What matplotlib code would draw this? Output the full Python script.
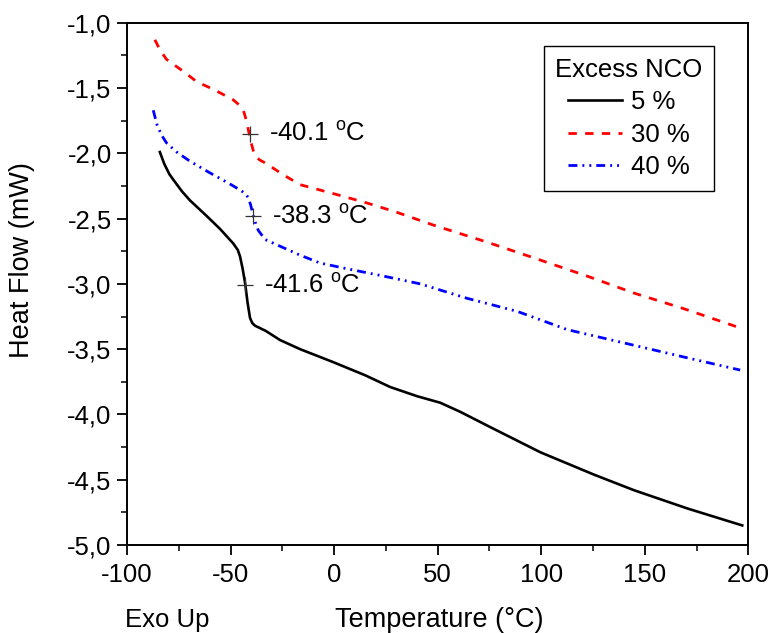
import numpy as np
import matplotlib
matplotlib.use('Agg')
import matplotlib.pyplot as plt
from matplotlib.ticker import MultipleLocator, FuncFormatter

plt.rcParams['font.family'] = ['Liberation Sans', 'DejaVu Sans']
plt.rcParams['mathtext.fontset'] = 'custom'
plt.rcParams['mathtext.rm'] = 'Liberation Sans'
plt.rcParams['font.size'] = 18.5

# 5 % excess NCO
t_5 = [-84.1, -82, -79.5, -77.7, -73.5, -69.6, -61.5, -55, -48.7, -46.5, -45.4, -44.2, -43.0, -41.8,
       -40.6, -39.5, -38.2, -33, -26.1, -16.4, -0.3, 15, 27.1, 40, 51.2, 60.9, 77.0, 99.6, 125.3,
       144.7, 170.5, 197.0]
hf_5 = [-1.99, -2.08, -2.16, -2.20, -2.29, -2.36, -2.48, -2.58, -2.69, -2.74, -2.79, -2.88, -2.99, -3.14,
        -3.26, -3.30, -3.32, -3.36, -3.43, -3.50, -3.60, -3.70, -3.79, -3.86, -3.91, -3.98, -4.11, -4.29,
        -4.46, -4.58, -4.72, -4.85]

# 30 % excess NCO
t_30 = [-86.5, -84, -80.9, -73, -66.4, -57, -48.7, -46.5, -45, -43.8, -42.5, -41.4, -40.2, -39.0,
        -38, -36, -32.5, -25, -16.4, 0, 15.8, 30, 48.0, 73.8, 96.3, 122.1, 144.7, 168.8, 196.5]
hf_30 = [-1.13, -1.21, -1.28, -1.37, -1.45, -1.52, -1.59, -1.62, -1.64, -1.67, -1.74, -1.82, -1.91, -1.98,
         -2.02, -2.05, -2.08, -2.16, -2.24, -2.31, -2.38, -2.45, -2.55, -2.68, -2.80, -2.94, -3.07,
         -3.19, -3.34]

# 40 % excess NCO
t_40 = [-87.3, -85.5, -83.3, -80.9, -76, -69.6, -59.9, -51.9, -45.4, -42.8, -41.4, -40.2, -39.0, -37.8,
        -36.6, -33.3, -27.7, -16.4, -6.8, 5, 23.8, 41.6, 64.1, 88.3, 112.5, 144.7, 168.8, 196]
hf_40 = [-1.67, -1.78, -1.86, -1.92, -1.99, -2.06, -2.15, -2.22, -2.28, -2.31, -2.34, -2.40, -2.48, -2.54,
         -2.59, -2.66, -2.70, -2.78, -2.84, -2.88, -2.94, -3.00, -3.11, -3.21, -3.35, -3.47, -3.56, -3.66]

# glass transition markers
tg_x = [-40.6, -39.0, -43.0]
tg_y = [-1.85, -2.48, -3.01]
tg_labels = ['-40.1 $^{\\mathrm{o}}$C', '-38.3 $^{\\mathrm{o}}$C', '-41.6 $^{\\mathrm{o}}$C']

fig = plt.figure(figsize=(7.74, 6.33), dpi=100)
ax = fig.add_axes([0.164, 0.139, 0.803, 0.825])

ax.plot(t_5, hf_5, color='black', lw=1.9, label='5 %')
ax.plot(t_30, hf_30, color='red', lw=2.0, linestyle=(0, (3, 3)), label='30 %')
ax.plot(t_40, hf_40, color='blue', lw=2.0, linestyle=(0, (3.2, 1.8, 0.7, 1.8, 0.7, 1.8)), label='40 %')

ax.plot(tg_x, tg_y, linestyle='none', marker='+', ms=11, mew=0.9, color='#333333')
for x, y, s in zip(tg_x, tg_y, tg_labels):
    ax.text(x + 9, y, s, va='center', ha='left')

ax.set_xlim(-100, 200)
ax.set_ylim(-5.0, -1.0)
ax.xaxis.set_major_locator(MultipleLocator(50))
ax.xaxis.set_minor_locator(MultipleLocator(25))
ax.yaxis.set_major_locator(MultipleLocator(0.5))
ax.yaxis.set_minor_locator(MultipleLocator(0.25))
ax.yaxis.set_major_formatter(FuncFormatter(lambda v, p: ('%.1f' % v).replace('.', ',')))
ax.xaxis.set_major_formatter(FuncFormatter(lambda v, p: '%d' % v))
ax.tick_params(which='major', direction='out', length=7, width=1.3, pad=4)
ax.tick_params(axis='x', which='major', pad=6)
ax.tick_params(which='minor', direction='out', length=4, width=1.1)
for sp in ax.spines.values():
    sp.set_linewidth(1.4)

leg = ax.legend(title='Excess NCO', loc='upper right', bbox_to_anchor=(0.945, 0.955),
                frameon=True, fancybox=False, edgecolor='black', framealpha=1,
                handlelength=2.1, handletextpad=0.35, labelspacing=0.33,
                borderpad=0.45, borderaxespad=0, alignment='center')
leg.get_frame().set_linewidth(1.0)
leg.get_title().set_fontsize(18.5)

fig.text(0.162, 0.021, 'Exo Up', ha='left', va='center')
fig.text(0.567, 0.021, 'Temperature (\u00b0C)', ha='center', va='center', fontsize=19.5)
fig.text(0.028, 0.589, 'Heat Flow (mW)', rotation=90, ha='center', va='center', fontsize=19.5)

fig.savefig('out.png', dpi=100)
